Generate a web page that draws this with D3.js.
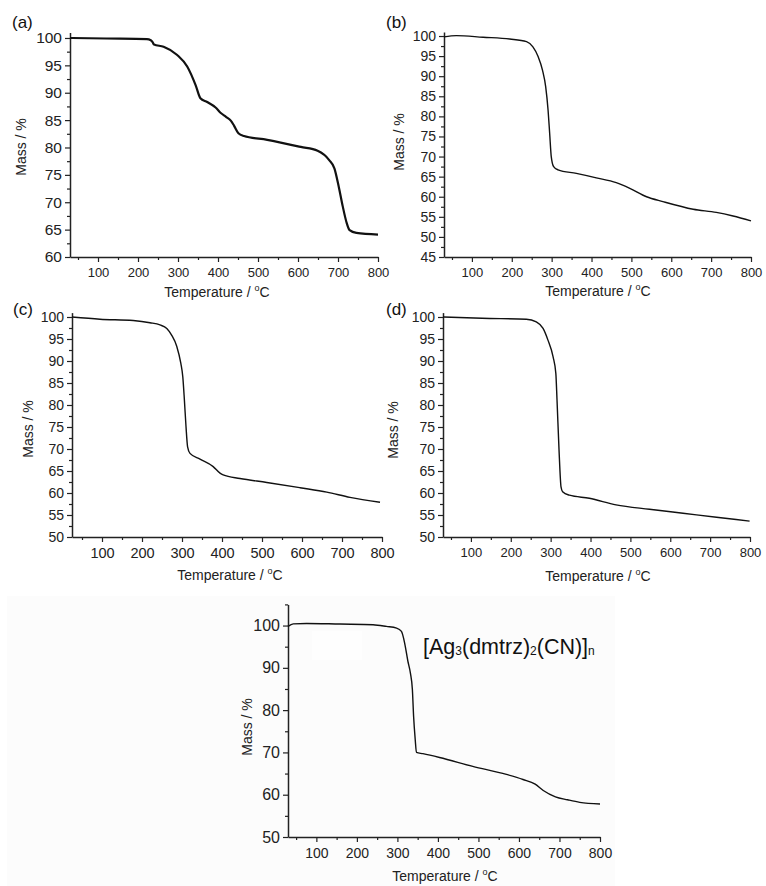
<!DOCTYPE html>
<html><head><meta charset="utf-8">
<script src="https://cdnjs.cloudflare.com/ajax/libs/d3/7.8.5/d3.min.js"></script>
<style>html,body{margin:0;padding:0;background:#fff;}svg{display:block;font-family:Arial,"Liberation Sans",sans-serif;}</style>
</head><body>
<svg id="c" width="766" height="886"></svg>
<script>
// ---- data (temperature °C, mass %) ----
const tempA = [30,120,222,232,236,240,264,298,323,344,356,373,394,407,420,432,440,451,465,523,607,649,678,691,702,712,721,729,746,800];
const massA = [100,99.9,99.8,99.6,99.3,98.8,98.4,96.9,94.8,91.4,89.0,88.3,87.3,86.3,85.6,84.9,84.0,82.6,82.1,81.4,80.1,79.4,77.7,76.2,72.8,69.2,66.4,64.9,64.4,64.1];

const tempB = [30,61,128,195,237,253,266,277,285,291,295,299,305,316,362,412,462,496,538,579,655,713,755,800];
const massB = [99.8,100.1,99.7,99.25,98.6,97.3,94.9,91.5,87.4,81.6,75.8,70.0,67.5,66.7,65.8,64.7,63.5,62.1,60.0,58.8,56.9,56.1,55.2,54.0];

const tempC = [25,95,178,220,245,262,274,287,297,302,306,310,314,320,345,378,395,403,445,512,595,662,720,795];
const massC = [100,99.5,99.2,98.7,98.2,97.4,95.9,93.3,89.5,86.4,81.1,75.1,70.5,69.0,67.7,66.0,64.5,64.1,63.3,62.4,61.2,60.2,59.0,57.9];

const tempD = [30,128,239,264,281,293,306,313,316,321,326,330,347,397,464,548,632,716,799];
const massD = [100,99.7,99.5,98.9,97.4,94.8,91.0,87.2,81.1,69.8,61.4,60.3,59.5,58.8,57.3,56.3,55.4,54.5,53.6];

const tempE = [30,43,76,158,240,273,298,310,318,326,332,337,340,344,347,363,404,486,569,610,640,660,690,720,750,800];
const massE = [99.8,100.4,100.5,100.35,100.2,99.8,99.4,98.6,95.8,91.5,88.8,84.8,78.5,73.0,70.0,69.7,68.8,66.7,64.8,63.6,62.5,61.0,59.5,58.8,58.2,57.8];

const xMajor = [100,200,300,400,500,600,700,800];
const xMinor = [50,150,250,350,450,550,650,750];
const yMajor5 = [45,50,55,60,65,70,75,80,85,90,95,100];
const yMajor10 = [50,60,70,80,90,100];
const yMinorE = [55,65,75,85,95,105];

const panelLabels = ["(a)","(b)","(c)","(d)"];
const xTitle = "Temperature / ";
const yTitle = "Mass / %";
const formula = [["[Ag",""],["3","sub"],["(dmtrz)",""],["2","sub"],["(CN)]",""],["n","sub"]];

// ---- layout ----
const svg = d3.select("#c");
svg.append("rect").attr("x",7).attr("y",596).attr("width",608).attr("height",290).attr("fill","#fcfcfc");
svg.append("rect").attr("x",312).attr("y",631).attr("width",50).attr("height",29).attr("fill","#fefefe");

const panels = [
  {t:tempA,m:massA,xd:[30,800],xr:[70,378],yd:[60,101],yr:[257,32.5],yMaj:yMajor5.filter(v=>v>=60),step:5,lw:2.2,yf:15.5,xf:13,
   lab:[12,28],yt:[21,147],xt:[217,297]},
  {t:tempB,m:massB,xd:[30,800],xr:[444,751],yd:[45,101],yr:[257,32],yMaj:yMajor5,step:5,lw:1.4,yf:14,xf:13,
   lab:[386,28],yt:[399,142],xt:[598,296]},
  {t:tempC,m:massC,xd:[25,800],xr:[72,382],yd:[50,101],yr:[537,312.6],yMaj:yMajor5.filter(v=>v>=50),step:5,lw:1.4,yf:14,xf:14.5,
   lab:[13,315],yt:[28,429],xt:[230,580]},
  {t:tempD,m:massD,xd:[30,800],xr:[443,750],yd:[50,101],yr:[537,312.6],yMaj:yMajor5.filter(v=>v>=50),step:5,lw:1.4,yf:14,xf:13,
   lab:[386,315],yt:[393,430],xt:[598,581]},
  {t:tempE,m:massE,xd:[30,800],xr:[288,600],yd:[50,105],yr:[837,604.4],yMaj:yMajor10,step:10,lw:1.4,yf:16,xf:14,
   lab:null,yt:[247,727],xt:[445,881]}
];

panels.forEach((p,i)=>{
  const x = d3.scaleLinear().domain(p.xd).range(p.xr);
  const y = d3.scaleLinear().domain(p.yd).range(p.yr);
  const g = svg.append("g");
  const y0 = p.yr[0], x0 = p.xr[0];
  const yMinor = p.step===5 ? p.yMaj.map(v=>v+2.5).filter(v=>v<p.yd[1]) : yMinorE;

  // x axis
  const xa = g.append("g").attr("transform",`translate(0,${y0})`)
    .call(d3.axisBottom(x).tickValues(xMajor).tickSize(5).tickSizeOuter(0).tickPadding(6).tickFormat(d3.format("d")));
  g.append("g").attr("transform",`translate(0,${y0})`)
    .call(d3.axisBottom(x).tickValues(xMinor).tickSize(3).tickSizeOuter(0).tickFormat(""))
    .select(".domain").remove();
  xa.selectAll("text").attr("font-size",p.xf).attr("fill","#222").attr("font-family","Arial, 'Liberation Sans', sans-serif");
  // y axis
  const ya = g.append("g").attr("transform",`translate(${x0},0)`)
    .call(d3.axisLeft(y).tickValues(p.yMaj).tickSize(5).tickSizeOuter(0).tickPadding(3).tickFormat(d3.format("d")));
  g.append("g").attr("transform",`translate(${x0},0)`)
    .call(d3.axisLeft(y).tickValues(yMinor).tickSize(3).tickSizeOuter(0).tickFormat(""))
    .select(".domain").remove();
  ya.selectAll("text").attr("font-size",p.yf).attr("fill","#222").attr("font-family","Arial, 'Liberation Sans', sans-serif");
  g.selectAll(".domain").attr("stroke","#222").attr("stroke-width",1.5);
  g.selectAll(".tick line").attr("stroke","#222").attr("stroke-width",1.2);

  // curve
  const data = p.t.map((t,k)=>[t,p.m[k]]);
  g.append("path").datum(data)
    .attr("d",d3.line().x(d=>x(d[0])).y(d=>y(d[1])).curve(d3.curveMonotoneX))
    .attr("fill","none").attr("stroke","#111").attr("stroke-width",p.lw).attr("stroke-linejoin","round");

  // titles
  const xt = g.append("text").attr("x",p.xt[0]).attr("y",p.xt[1]).attr("text-anchor","middle")
    .attr("font-size",14).attr("fill","#222");
  xt.append("tspan").text(xTitle);
  xt.append("tspan").attr("font-size",9).attr("dy",-6).text("o");
  xt.append("tspan").attr("dy",6).text("C");
  g.append("text").attr("transform",`translate(${p.yt[0]},${p.yt[1]}) rotate(-90)`)
    .attr("text-anchor","middle").attr("dominant-baseline","central").attr("font-size",14).attr("fill","#222").text(yTitle);
  if(p.lab){
    g.append("text").attr("x",p.lab[0]).attr("y",p.lab[1]).attr("font-size",17).attr("fill","#111").text(panelLabels[i]);
  }
});

// formula annotation
const ft = svg.append("text").attr("x",423).attr("y",654).attr("font-size",21.5).attr("fill","#111");
formula.forEach(([s,k],i)=>{
  if(k==="sub") ft.append("tspan").attr("font-size",12).attr("dy",1).text(s);
  else ft.append("tspan").attr("dy",i===0?0:-1).text(s);
});
</script>
</body></html>
